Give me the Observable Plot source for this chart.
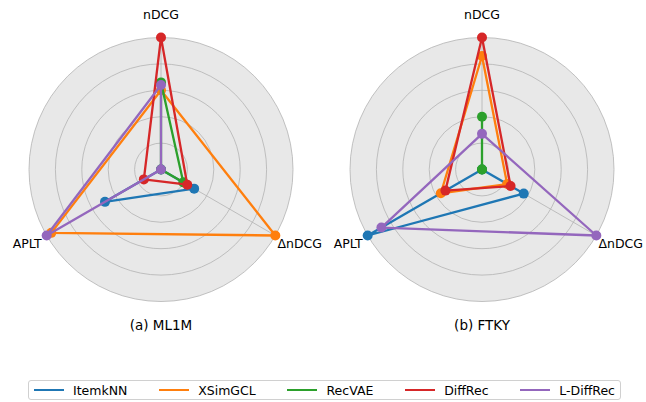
<!DOCTYPE html>
<html><head><meta charset="utf-8">
<script src="https://cdn.jsdelivr.net/npm/d3@7"></script>
<script src="https://cdn.jsdelivr.net/npm/@observablehq/plot@0.6"></script>
<style>
body{margin:0;background:#fff;font-family:"DejaVu Sans",sans-serif;}
#chart svg{display:block;}
#legend{position:relative;margin:4px 0 0 28px;width:593px;height:20px;border:1px solid #d0d0d0;border-radius:3px;display:flex;align-items:center;justify-content:space-between;padding:0 5px 0 5px;box-sizing:border-box;font-size:12.5px;color:#000;}
#legend .item{display:flex;align-items:center;white-space:nowrap;}
#legend .sw{width:30px;height:2px;margin-right:9px;}
</style></head><body><div id="chart"></div><div id="legend"></div>
<script>
const methods = ["ItemkNN","XSimGCL","RecVAE","DiffRec","L-DiffRec"];
const colors = ["#1f77b4","#ff7f0e","#2ca02c","#d62728","#9467bd"];
const metrics = ["nDCG","APLT","ΔnDCG"];
const datasets = ["(a) ML1M","(b) FTKY"];
const gridLevels = [0.2,0.4,0.6,0.8,1.0];
// normalized values, in the order of methods
const ml1mNDCG  = [0.00,0.60,0.66,1.00,0.64];
const ml1mAPLT  = [0.49,0.96,0.00,0.15,1.00];
const ml1mDelta = [0.29,1.00,0.195,0.23,0.00];
const ftkyNDCG  = [0.00,0.86,0.40,1.00,0.27];
const ftkyAPLT  = [1.00,0.36,0.00,0.32,0.88];
const ftkyDelta = [0.365,0.22,0.00,0.25,1.00];

const values = {
  "(a) ML1M": {"nDCG": ml1mNDCG, "APLT": ml1mAPLT, "ΔnDCG": ml1mDelta},
  "(b) FTKY": {"nDCG": ftkyNDCG, "APLT": ftkyAPLT, "ΔnDCG": ftkyDelta}
};

// layout
const W = 646, H = 376, R = 132, cxPx = [160.5, 481.5], cyPx = 169;
const offset = cxPx.map(c => (c - cxPx[0]) / R);
const ang = i => Math.PI/2 + i*2*Math.PI/3;

const rows = [];
datasets.forEach((d, di) => {
  methods.forEach((m, mi) => {
    metrics.forEach((k, ki) => {
      const v = values[d][k][mi];
      rows.push({dataset: d, method: m, metric: k, value: v,
        x: offset[di] + v*Math.cos(ang(ki)), y: v*Math.sin(ang(ki))});
    });
  });
});

const centers = datasets.map((d, di) => ({dataset: d, x: offset[di], y: 0}));
const spokes = datasets.flatMap((d, di) => metrics.map((k, ki) => ({
  x1: offset[di], y1: 0, x2: offset[di] + Math.cos(ang(ki)), y2: Math.sin(ang(ki))})));
const labelR = 1.17;
const labels = datasets.flatMap((d, di) => metrics.map((k, ki) => ({
  text: k, ki, x: offset[di] + labelR*Math.cos(ang(ki)), y: labelR*Math.sin(ang(ki))})));
const titleY = (cyPx - 325) / R;

const marks = [
  Plot.dot(centers, {x: "x", y: "y", r: R, fill: "#e8e8e8", stroke: "none"}),
  ...gridLevels.map(g => Plot.dot(centers, {x: "x", y: "y", r: g*R, fill: "none", stroke: "#b3b3b3", strokeWidth: 0.8})),
  Plot.link(spokes, {x1: "x1", y1: "y1", x2: "x2", y2: "y2", stroke: "#b3b3b3", strokeWidth: 0.8}),
];
methods.forEach((m, mi) => {
  datasets.forEach(d => {
    const sub = rows.filter(r => r.method === m && r.dataset === d);
    marks.push(Plot.line(sub, {x: "x", y: "y", stroke: colors[mi], strokeWidth: 2.3, curve: "linear-closed"}));
    marks.push(Plot.dot(sub, {x: "x", y: "y", r: 5, fill: colors[mi], stroke: "none"}));
  });
});
marks.push(Plot.text(labels, {x: "x", y: "y", text: "text", fontSize: 12.5, fill: "#000"}));
marks.push(Plot.text(centers, {x: "x", y: () => titleY, text: "dataset", fontSize: 13.5, fill: "#000"}));

const chart = Plot.plot({
  width: W, height: H,
  margin: 0,
  x: {domain: [-cxPx[0]/R, (W - cxPx[0])/R], range: [0, W], axis: null},
  y: {domain: [cyPx/R, -(H - cyPx)/R], range: [0, H], axis: null},
  style: {fontFamily: "DejaVu Sans, sans-serif", background: "#fff"},
  marks
});
document.getElementById("chart").append(chart);
// fine placement of the two bottom axis labels
d3.select(chart).selectAll("text").each(function() {
  const t = this.textContent;
  if (t === "APLT") d3.select(this).attr("dy", "-2.5");
  if (t === "ΔnDCG") { d3.select(this).attr("dy", "-2.5").attr("dx", "5"); }
});

const lg = document.getElementById("legend");
methods.forEach((m, i) => {
  const it = document.createElement("div"); it.className = "item";
  const sw = document.createElement("div"); sw.className = "sw"; sw.style.background = colors[i];
  const tx = document.createElement("span"); tx.textContent = m;
  it.append(sw, tx); lg.append(it);
});
</script></body></html>
